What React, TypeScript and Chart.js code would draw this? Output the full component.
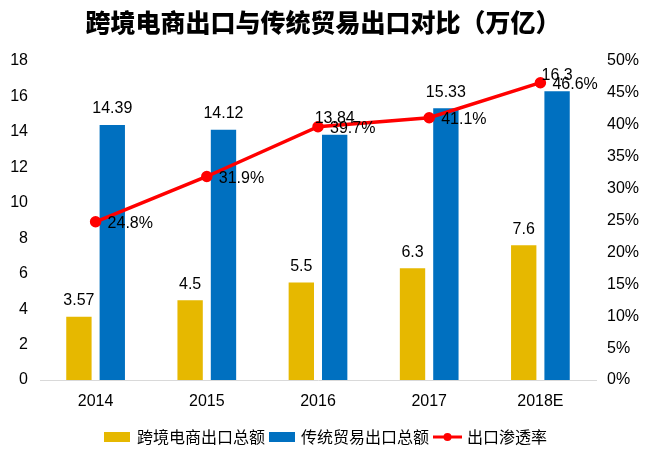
import React, { useEffect, useRef } from "react";
import { Chart, registerables } from "chart.js";

Chart.register(...registerables);

const categories = ["2014", "2015", "2016", "2017", "2018E"];
const crossBorder = [3.57, 4.5, 5.5, 6.3, 7.6];
const traditional = [14.39, 14.12, 13.84, 15.33, 16.3];
const penetration = [24.8, 31.9, 39.7, 41.1, 46.6];
const seriesNames = ["跨境电商出口总额", "传统贸易出口总额", "出口渗透率"];
const titleText = "跨境电商出口与传统贸易出口对比（万亿）";

const YELLOW = "#E6B800";
const BLUE = "#0070C0";
const RED = "#FF0000";
const FONT = "'Liberation Sans', Arial, 'Noto Sans CJK SC', sans-serif";
const CJK = "'Noto Sans CJK SC', 'Liberation Sans', sans-serif";

const overlayPlugin = {
  id: "overlay",
  afterDatasetsDraw(chart: any) {
    const ctx = chart.ctx;
    ctx.save();
    ctx.font = `16px ${FONT}`;
    ctx.fillStyle = "#000";
    ctx.textAlign = "center";
    ctx.textBaseline = "bottom";
    [0, 1].forEach((di) => {
      const meta = chart.getDatasetMeta(di);
      meta.data.forEach((el: any, i: number) => {
        const v = chart.data.datasets[di].data[i];
        ctx.fillText(String(v), el.x, el.y - 8);
      });
    });
    const lm = chart.getDatasetMeta(2);
    ctx.textAlign = "left";
    ctx.textBaseline = "middle";
    lm.data.forEach((el: any, i: number) => {
      const v = chart.data.datasets[2].data[i];
      ctx.fillText(v.toFixed(1) + "%", el.x + 12, el.y + 2);
    });
    ctx.restore();
  },
  afterDraw(chart: any) {
    const ctx = chart.ctx;
    ctx.save();
    ctx.font = `900 25px ${CJK}`;
    ctx.fillStyle = "#000";
    ctx.textAlign = "center";
    ctx.textBaseline = "middle";
    ctx.fillText(titleText, 323, 22);
    const ly = 437;
    ctx.font = `16px ${CJK}`;
    ctx.textAlign = "left";
    ctx.textBaseline = "middle";
    ctx.fillStyle = YELLOW;
    ctx.fillRect(104, ly - 5, 26, 10);
    ctx.fillStyle = "#000";
    ctx.fillText(seriesNames[0], 137, ly);
    ctx.fillStyle = BLUE;
    ctx.fillRect(269, ly - 5, 26, 10);
    ctx.fillStyle = "#000";
    ctx.fillText(seriesNames[1], 301, ly);
    ctx.strokeStyle = RED;
    ctx.lineWidth = 3;
    ctx.beginPath();
    ctx.moveTo(433, ly);
    ctx.lineTo(462, ly);
    ctx.stroke();
    ctx.fillStyle = RED;
    ctx.beginPath();
    ctx.arc(447.5, ly, 4, 0, Math.PI * 2);
    ctx.fill();
    ctx.fillStyle = "#000";
    ctx.fillText(seriesNames[2], 467, ly);
    ctx.restore();
  },
};

export default function App() {
  const ref = useRef<HTMLCanvasElement>(null);
  useEffect(() => {
    document.body.style.margin = "0";
    const chart = new Chart(ref.current!, {
      type: "bar",
      data: {
        labels: categories,
        datasets: [
          {
            type: "bar",
            label: seriesNames[0],
            data: crossBorder,
            backgroundColor: YELLOW,
            yAxisID: "y",
            order: 2,
            categoryPercentage: 0.6,
            barPercentage: 0.76,
          },
          {
            type: "bar",
            label: seriesNames[1],
            data: traditional,
            backgroundColor: BLUE,
            yAxisID: "y",
            order: 2,
            categoryPercentage: 0.6,
            barPercentage: 0.76,
          },
          {
            type: "line",
            label: seriesNames[2],
            data: penetration,
            borderColor: RED,
            backgroundColor: RED,
            borderWidth: 3.5,
            pointRadius: 4,
            pointBackgroundColor: RED,
            pointBorderColor: RED,
            yAxisID: "y1",
            order: 0,
            tension: 0,
          } as any,
        ],
      },
      options: {
        animation: false,
        responsive: false,
        maintainAspectRatio: false,
        layout: { padding: { top: 61, bottom: 46, left: 0, right: 0 } },
        plugins: {
          legend: { display: false },
          title: { display: false },
          tooltip: { enabled: false },
        },
        scales: {
          x: {
            grid: { display: false, drawTicks: false },
            border: { display: true, color: "#d9d9d9", width: 1 },
            ticks: { color: "#000", font: { size: 16, family: FONT }, padding: 12 },
            afterFit: (s: any) => {
              s.height = 35;
            },
          },
          y: {
            position: "left",
            min: 0,
            max: 18,
            grid: { display: false, drawTicks: false },
            border: { display: false },
            ticks: { stepSize: 2, color: "#000", font: { size: 16, family: FONT }, padding: 12 },
            afterFit: (s: any) => {
              s.width = 40;
            },
          },
          y1: {
            position: "right",
            min: 0,
            max: 50,
            grid: { display: false, drawTicks: false },
            border: { display: false },
            ticks: {
              stepSize: 5,
              color: "#000",
              font: { size: 16, family: FONT },
              padding: 11,
              callback: (v: any) => v + "%",
            },
            afterFit: (s: any) => {
              s.width = 54;
            },
          },
        },
      },
      plugins: [overlayPlugin],
    });
    return () => chart.destroy();
  }, []);
  return <canvas ref={ref} width={650} height={461} style={{ display: "block" }} />;
}
